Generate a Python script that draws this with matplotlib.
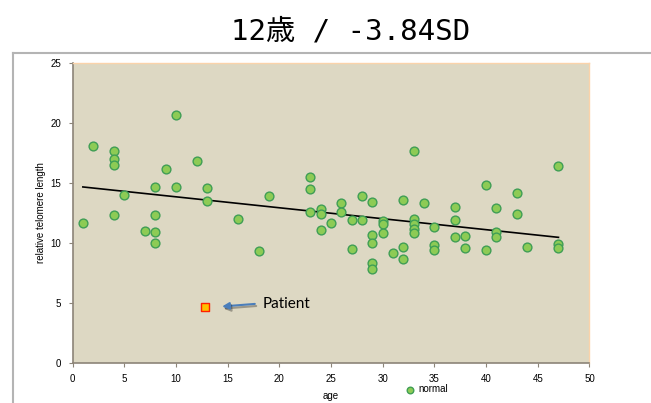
import matplotlib
matplotlib.use("Agg")
import matplotlib.pyplot as plt
from matplotlib.lines import Line2D
import matplotlib.patheffects as pe

# normal controls: age vs relative telomere length
ages = [1, 2, 4, 4, 4, 4, 5, 7, 8, 8, 8, 8, 9, 10, 10, 12, 13, 13, 16, 18, 19,
        23, 23, 23, 24, 24, 24, 25, 26, 26, 27, 27, 28, 28,
        29, 29, 29, 29, 29, 30, 30, 30, 31, 32, 32, 32,
        33, 33, 33, 33, 33, 34, 35, 35, 35, 37, 37, 37, 38, 38,
        40, 40, 41, 41, 41, 43, 43, 44, 47, 47, 47]
telomere = [11.7, 18.1, 17.7, 17.0, 16.5, 12.3, 14.0, 11.0, 14.7, 12.3, 10.9, 10.0,
            16.2, 20.7, 14.7, 16.8, 14.6, 13.5, 12.0, 9.3, 13.9,
            15.5, 14.5, 12.6, 12.8, 12.4, 11.1, 11.7, 13.3, 12.6, 11.9, 9.5, 13.9, 11.9,
            13.4, 10.7, 10.0, 8.3, 7.8, 11.8, 11.6, 10.8, 9.2, 13.6, 9.7, 8.7,
            17.7, 12.0, 11.6, 11.2, 10.8, 13.3, 11.3, 9.8, 9.4, 13.0, 11.9, 10.5, 10.6, 9.6,
            14.8, 9.4, 12.9, 10.9, 10.5, 14.2, 12.4, 9.7, 16.4, 9.9, 9.6]

# linear trend line end points
trend_age = [1, 47]
trend_val = [14.67, 10.47]

# patient
patient_age = [12.8]
patient_val = [4.7]

title = "12歳 / -3.84SD"

fig = plt.figure(figsize=(6.51, 4.03), dpi=100)
ax = fig.add_axes([0.1114, 0.0993, 0.7941, 0.7444])
ax.set_facecolor("#DDD8C3")

ax.plot(trend_age, trend_val, color="black", lw=1.2, zorder=2)
ax.scatter(ages, telomere, s=40, facecolor="#8DCB55", edgecolor="#3F9E55",
           linewidth=1.0, zorder=3, label="normal")
ax.scatter(patient_age, patient_val, marker="s", s=36, facecolor="#FFC000",
           edgecolor="#FF2000", linewidth=1.0, zorder=3)

ax.annotate("", xy=(14.2, 4.69), xytext=(17.9, 4.94),
            arrowprops=dict(arrowstyle="-|>", color="#4A7EBB", lw=1.5,
                            mutation_scale=10,
                            path_effects=[pe.SimpleLineShadow(offset=(1, -1.5), alpha=0.3),
                                          pe.Normal()]))
ax.text(18.4, 4.94, "Patient", fontsize=11, family="Lato", va="center", ha="left")

ax.set_xlim(0, 50)
ax.set_ylim(0, 25)
ax.set_xticks(range(0, 51, 5))
ax.set_yticks(range(0, 26, 5))
ax.tick_params(labelsize=7, length=3, width=0.8, color="#8C8478", pad=5)
for lbl in ax.get_xticklabels() + ax.get_yticklabels():
    lbl.set_family("Liberation Sans")

for side in ["left", "bottom"]:
    ax.spines[side].set_color("#8C8478")
    ax.spines[side].set_linewidth(1.2)
for side in ["top", "right"]:
    ax.spines[side].set_color("#FBD3AA")
    ax.spines[side].set_linewidth(1.0)

ax.set_xlabel("age", fontsize=7, family="Liberation Sans", labelpad=5)
ax.set_ylabel("relative telomere length", fontsize=7, family="Liberation Sans", labelpad=3)

ax.legend(loc="center left", bbox_to_anchor=(0.625, -0.088), frameon=False,
          handletextpad=-0.2, borderpad=0, markerscale=0.75,
          prop={"family": "Liberation Sans", "size": 7})

fig.text(0.538, 0.923, title, fontsize=21, ha="center", va="center",
         family=["DejaVu Sans Mono", "Noto Sans CJK JP"])

# outer slide frame
fig.add_artist(Line2D([0.02, 1.0], [0.868, 0.868], color="#B4B4B4", lw=1.5))
fig.add_artist(Line2D([0.02, 0.02], [0.0, 0.868], color="#B4B4B4", lw=1.5))

fig.savefig("out.png", dpi=100)
